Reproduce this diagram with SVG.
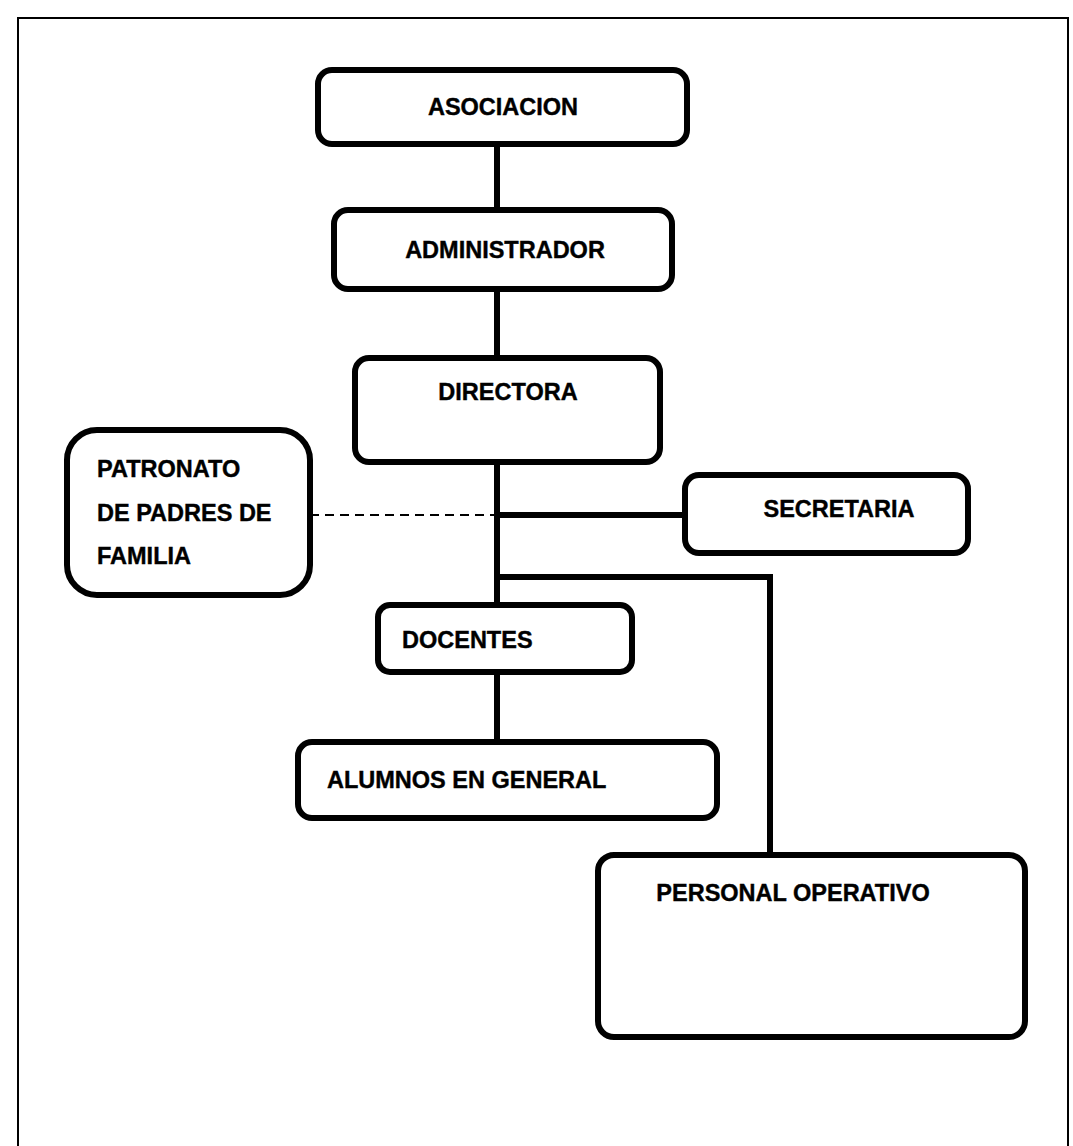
<svg xmlns="http://www.w3.org/2000/svg" width="1073" height="1146" viewBox="0 0 1073 1146">
<style>
.box{fill:#fff;stroke:#000;stroke-width:6}
.lbl{font-family:"Liberation Sans",Arial,sans-serif;font-weight:bold;font-size:23.5px;fill:#000;stroke:#000;stroke-width:0.4}
.c{text-anchor:middle}
.con{stroke:#000;stroke-width:6;fill:none}
.dash{stroke:#000;stroke-width:2;stroke-dasharray:9 6;fill:none}
.frame{stroke:#000;stroke-width:2;fill:none}
</style>
<rect width="1073" height="1146" fill="#fff"/>
<g id="frame"><path class="frame" d="M18,1146 V18 H1068 V1146"/></g>
<g id="connectors">
<path class="con" d="M497,144 V210"/>
<path class="con" d="M497,289 V358"/>
<path class="con" d="M497,462 V605"/>
<path class="dash" d="M310,515 H494"/>
<path class="con" d="M497,515 H685"/>
<path class="con" d="M497,577 H770 V855"/>
<path class="con" d="M497,672 V742"/>
</g>
<g id="asociacion"><rect class="box" x="318" y="70" width="369" height="74" rx="14"/><text class="lbl c" x="503" y="115">ASOCIACION</text></g>
<g id="administrador"><rect class="box" x="334" y="210" width="338" height="79" rx="14"/><text class="lbl c" x="505" y="258">ADMINISTRADOR</text></g>
<g id="directora"><rect class="box" x="355" y="358" width="305" height="104" rx="14"/><text class="lbl c" x="508" y="400">DIRECTORA</text></g>
<g id="patronato"><rect class="box" x="67" y="430" width="243" height="165" rx="30"/>
<text class="lbl" x="97" y="477">PATRONATO</text><text class="lbl" x="97" y="521">DE PADRES DE</text><text class="lbl" x="97" y="564">FAMILIA</text></g>
<g id="secretaria"><rect class="box" x="685" y="475" width="283" height="78" rx="14"/><text class="lbl c" x="839" y="517">SECRETARIA</text></g>
<g id="docentes"><rect class="box" x="378" y="605" width="254" height="67" rx="12"/><text class="lbl" x="402" y="648">DOCENTES</text></g>
<g id="alumnos"><rect class="box" x="298" y="742" width="419" height="76" rx="14"/><text class="lbl" x="327" y="788">ALUMNOS EN GENERAL</text></g>
<g id="personal"><rect class="box" x="598" y="855" width="427" height="182" rx="16"/><text class="lbl c" x="793" y="901">PERSONAL OPERATIVO</text></g>
</svg>
